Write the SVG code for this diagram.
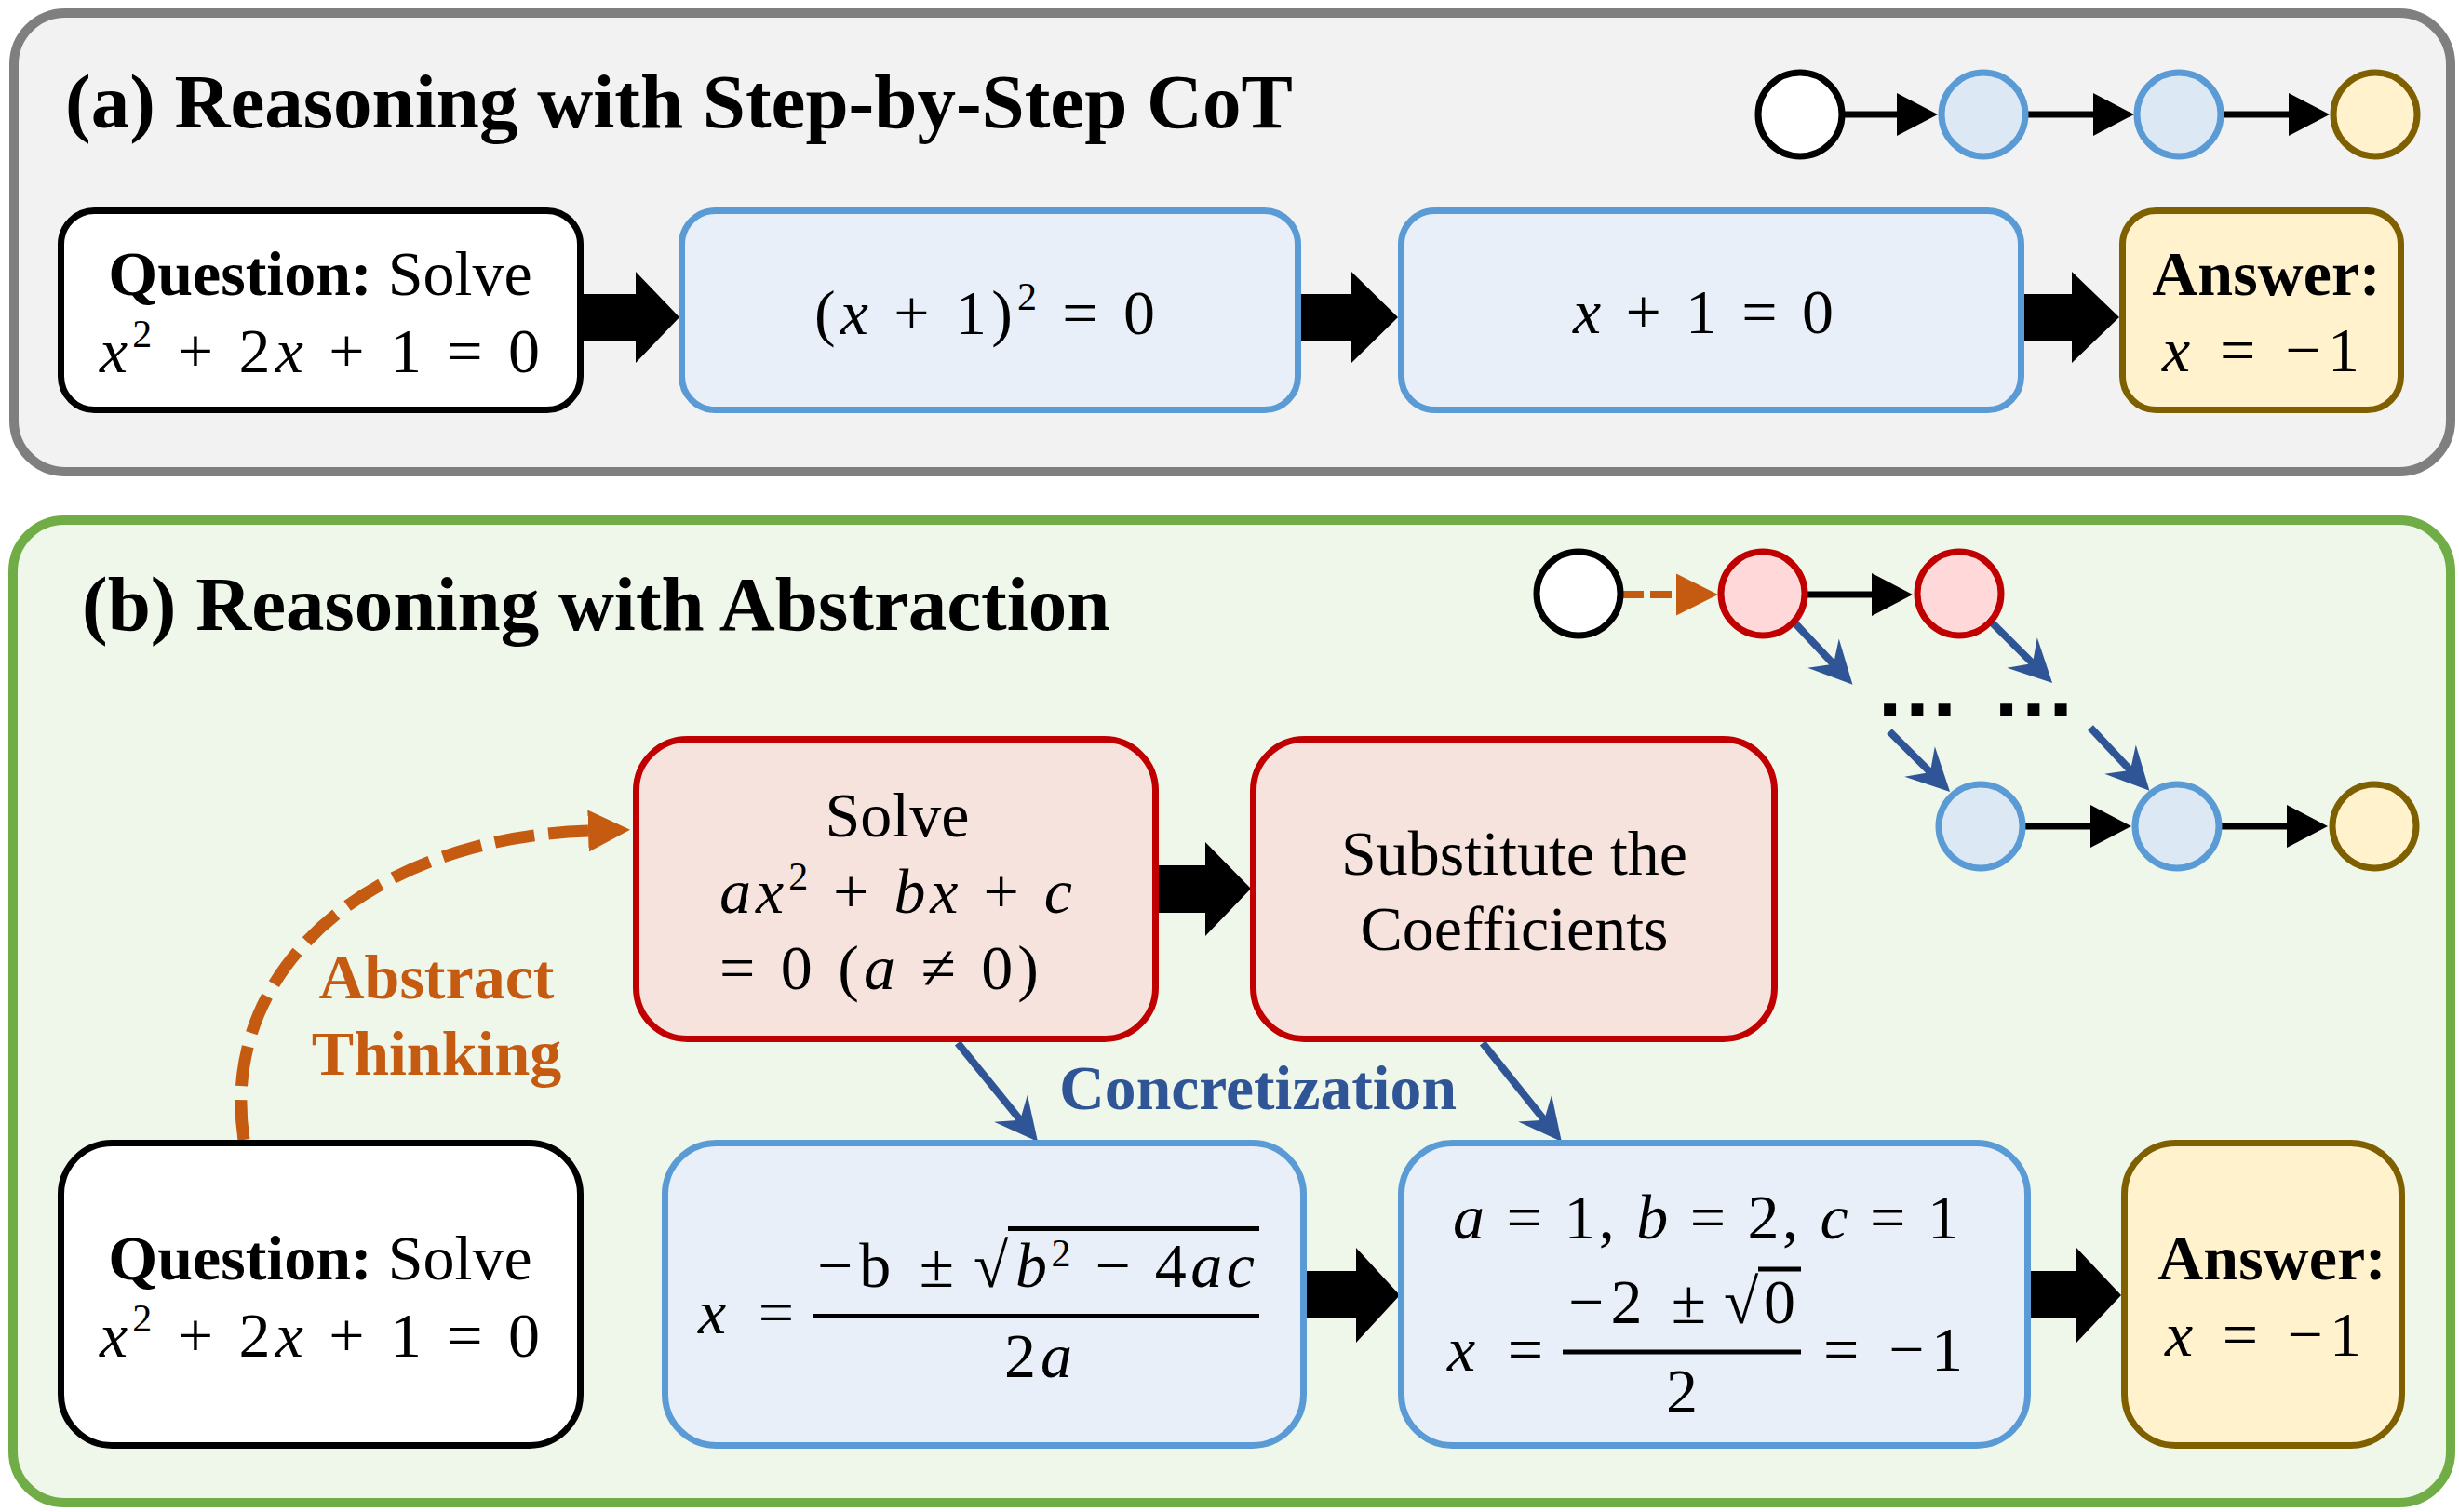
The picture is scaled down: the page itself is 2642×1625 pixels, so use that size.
<svg xmlns="http://www.w3.org/2000/svg" width="2642" height="1625" viewBox="0 0 2642 1625">
<defs>
<style>
.t{font-family:"Liberation Serif","Times New Roman",serif;font-size:68px;fill:#000}
.b{font-weight:bold}
.i{font-style:italic}
.ttl{font-family:"Liberation Serif","Times New Roman",serif;font-size:83px;font-weight:bold;fill:#000}
.sup{font-size:42px}
.dots{font-family:"Liberation Sans",Arial,sans-serif;font-weight:bold;font-size:92px;fill:#000}
.q{fill:#fff;stroke:#000;stroke-width:7}
.bl{fill:#e8eff8;stroke:#5b9bd5;stroke-width:7}
.rd{fill:#f6e3de;stroke:#c00000;stroke-width:7}
.an{fill:#fff2cc;stroke:#7f6000;stroke-width:7}
.cw{fill:#fff;stroke:#000;stroke-width:7}
.cb{fill:#dde8f5;stroke:#5b9bd5;stroke-width:7}
.cr{fill:#ffd9d9;stroke:#c00000;stroke-width:7}
.cy{fill:#fff2cc;stroke:#7f6000;stroke-width:7}
.blk{fill:#000}
.ln{stroke:#000;stroke-width:7;fill:none;marker-end:url(#ah)}
.bln{stroke:#2f5597;stroke-width:8;fill:none;marker-end:url(#st)}
.bar{stroke:#000;stroke-width:5}
</style>
<marker id="ah" markerUnits="userSpaceOnUse" markerWidth="48" markerHeight="50" viewBox="0 -25 48 50" refX="2" refY="0" orient="auto"><path d="M0,-23 L44,0 L0,23 Z" fill="#000"/></marker>
<marker id="aho" markerUnits="userSpaceOnUse" markerWidth="48" markerHeight="50" viewBox="0 -25 48 50" refX="2" refY="0" orient="auto"><path d="M0,-22.5 L45,0 L0,22.5 Z" fill="#c55a11"/></marker>
<marker id="st" markerUnits="userSpaceOnUse" markerWidth="52" markerHeight="52" viewBox="-49 -26 52 52" refX="-27" refY="0" orient="auto"><path d="M0,0 L-46,-23 L-30,0 L-46,23 Z" fill="#2f5597"/></marker>
</defs>

<g id="panel-a">
<rect x="15" y="14" width="2618" height="493" rx="55" fill="#f2f2f2" stroke="#7f7f7f" stroke-width="10"/>
<text class="ttl" x="70" y="137">(a) Reasoning with Step-by-Step CoT</text>
</g>
<g id="panel-b">
<rect x="14" y="559" width="2619" height="1056" rx="55" fill="#eff6ea" stroke="#70ad47" stroke-width="10"/>
<text class="ttl" x="88" y="677">(b) Reasoning with Abstraction</text>
</g>

<g id="connectors">
<!-- panel a mini graph -->
<line class="ln" x1="1979" y1="123" x2="2040" y2="123"/>
<line class="ln" x1="2176" y1="123" x2="2251" y2="123"/>
<line class="ln" x1="2386" y1="123" x2="2461" y2="123"/>
<!-- panel a block arrows -->
<polygon class="blk" points="627,316 683,316 683,292 730,341 683,390 683,366 627,366"/>
<polygon class="blk" points="1398,316 1452,316 1452,292 1502,341 1452,390 1452,366 1398,366"/>
<polygon class="blk" points="2175,316 2226,316 2226,292 2277,341 2226,390 2226,366 2175,366"/>
<!-- panel b mini graph -->
<line x1="1743" y1="639" x2="1803" y2="639" stroke="#c55a11" stroke-width="8" stroke-dasharray="23 7" marker-end="url(#aho)"/>
<line class="ln" x1="1941" y1="639" x2="2013" y2="639"/>
<line class="ln" x1="2175" y1="888" x2="2248" y2="888"/>
<line class="ln" x1="2386" y1="888" x2="2459" y2="888"/>
<line class="bln" x1="1927" y1="668" x2="1972" y2="716"/>
<line class="bln" x1="2137" y1="666" x2="2186" y2="715"/>
<line class="bln" x1="2030" y1="786" x2="2076" y2="832"/>
<line class="bln" x1="2246" y1="782" x2="2291" y2="830"/>
<!-- abstract thinking -->
<path d="M262,1225 C234,1040 400,900 634,893" fill="none" stroke="#c55a11" stroke-width="13" stroke-dasharray="43 15" marker-end="url(#aho)"/>
<!-- concretization -->
<line class="bln" stroke-width="9" x1="1029" y1="1121" x2="1098" y2="1206"/>
<line class="bln" stroke-width="9" x1="1593" y1="1121" x2="1661" y2="1206"/>
<!-- panel b block arrows -->
<polygon class="blk" points="1245,930 1295,930 1295,905 1344,955 1295,1006 1295,981 1245,981"/>
<polygon class="blk" points="1404,1366 1457,1366 1457,1341 1504,1392 1457,1443 1457,1417 1404,1417"/>
<polygon class="blk" points="2182,1366 2231,1366 2231,1341 2279,1392 2231,1443 2231,1417 2182,1417"/>
</g>

<g id="mini-a">
<circle class="cw" cx="1934" cy="123" r="45"/>
<circle class="cb" cx="2131" cy="123" r="45"/>
<circle class="cb" cx="2341" cy="123" r="45"/>
<circle class="cy" cx="2552" cy="123" r="45"/>
</g>
<g id="mini-b">
<circle class="cw" cx="1696" cy="638" r="45"/>
<circle class="cr" cx="1894" cy="638" r="45"/>
<circle class="cr" cx="2105" cy="638" r="45"/>
<text class="dots" x="2060" y="770" text-anchor="middle">…</text>
<text class="dots" x="2185" y="770" text-anchor="middle">…</text>
<circle class="cb" cx="2128" cy="888" r="45"/>
<circle class="cb" cx="2339" cy="888" r="45"/>
<circle class="cy" cx="2551" cy="888" r="45"/>
</g>

<g id="a-question">
<rect class="q" x="65.5" y="226.5" width="558" height="214" rx="36"/>
<text class="t" x="344" y="317" text-anchor="middle"><tspan class="b">Question:</tspan> Solve</text>
<text class="t" x="107" y="400" textLength="473" lengthAdjust="spacing"><tspan class="i">x</tspan><tspan class="sup" dy="-27">2</tspan><tspan dy="27"> + 2</tspan><tspan class="i">x</tspan> + 1 = 0</text>
</g>
<g id="a-step1">
<rect class="bl" x="732.5" y="226.5" width="662" height="214" rx="36"/>
<text class="t" x="875" y="359" textLength="366" lengthAdjust="spacing">(<tspan class="i">x</tspan> + 1)<tspan class="sup" dy="-26">2</tspan><tspan dy="26"> = 0</tspan></text>
</g>
<g id="a-step2">
<rect class="bl" x="1505.5" y="226.5" width="666" height="214" rx="36"/>
<text class="t" x="1690" y="358" textLength="280" lengthAdjust="spacing"><tspan class="i">x</tspan> + 1 = 0</text>
</g>
<g id="a-answer">
<rect class="an" x="2280.5" y="226.5" width="299" height="214" rx="36"/>
<text class="t b" x="2435" y="317" text-anchor="middle">Answer:</text>
<text class="t" x="2323" y="399" textLength="212" lengthAdjust="spacing"><tspan class="i">x</tspan> = −1</text>
</g>

<g id="b-abstract">
<rect class="rd" x="683.5" y="794.5" width="558" height="322" rx="55"/>
<text class="t" x="964" y="899" text-anchor="middle">Solve</text>
<text class="t" x="773" y="981" textLength="379" lengthAdjust="spacing"><tspan class="i">ax</tspan><tspan class="sup" dy="-25">2</tspan><tspan dy="25"> + </tspan><tspan class="i">bx</tspan> + <tspan class="i">c</tspan></text>
<text class="t" x="773" y="1063" textLength="343" lengthAdjust="spacing">= 0 (<tspan class="i">a</tspan> ≠ 0)</text>
</g>
<g id="b-substitute">
<rect class="rd" x="1346.5" y="794.5" width="560" height="322" rx="55"/>
<text class="t" x="1627" y="940" text-anchor="middle">Substitute the</text>
<text class="t" x="1627" y="1021" text-anchor="middle">Coefficients</text>
</g>
<g id="labels">
<text class="t b" x="469" y="1073" text-anchor="middle" style="fill:#c55a11">Abstract</text>
<text class="t b" x="469" y="1155" text-anchor="middle" style="fill:#c55a11">Thinking</text>
<text class="t b" x="1138" y="1192" textLength="427" lengthAdjust="spacingAndGlyphs" style="fill:#2f5597">Concretization</text>
</g>
<g id="b-question">
<rect class="q" x="65.5" y="1228.5" width="558" height="325" rx="55"/>
<text class="t" x="344" y="1375" text-anchor="middle"><tspan class="b">Question:</tspan> Solve</text>
<text class="t" x="107" y="1458" textLength="473" lengthAdjust="spacing"><tspan class="i">x</tspan><tspan class="sup" dy="-27">2</tspan><tspan dy="27"> + 2</tspan><tspan class="i">x</tspan> + 1 = 0</text>
</g>
<g id="b-formula">
<rect class="bl" x="714.5" y="1228.5" width="686" height="325" rx="55"/>
<text class="t" x="750" y="1433" textLength="103" lengthAdjust="spacing"><tspan class="i">x</tspan> =</text>
<line class="bar" x1="874" y1="1414.5" x2="1353" y2="1414.5"/>
<text class="t" x="878" y="1383" textLength="147" lengthAdjust="spacing">−b ±</text>
<text class="t" x="1046" y="1383" font-size="74">√</text>
<line class="bar" x1="1083" y1="1320.5" x2="1353" y2="1320.5"/>
<text class="t" x="1091" y="1383" textLength="257" lengthAdjust="spacing"><tspan class="i">b</tspan><tspan class="sup" dy="-22">2</tspan><tspan dy="22"> − 4</tspan><tspan class="i">ac</tspan></text>
<text class="t" x="1079" y="1480" textLength="73" lengthAdjust="spacing">2<tspan class="i">a</tspan></text>
</g>
<g id="b-substituted">
<rect class="bl" x="1505.5" y="1228.5" width="673" height="325" rx="55"/>
<text class="t" x="1561" y="1331" textLength="544" lengthAdjust="spacing"><tspan class="i">a</tspan> = 1, <tspan class="i">b</tspan> = 2, <tspan class="i">c</tspan> = 1</text>
<text class="t" x="1555" y="1473" textLength="103" lengthAdjust="spacing"><tspan class="i">x</tspan> =</text>
<line class="bar" x1="1679" y1="1453" x2="1935" y2="1453"/>
<text class="t" x="1685" y="1422" textLength="148" lengthAdjust="spacing">−2 ±</text>
<text class="t" x="1852" y="1422" font-size="74">√</text>
<line class="bar" x1="1889" y1="1364" x2="1935" y2="1364"/>
<text class="t" x="1895" y="1422">0</text>
<text class="t" x="1807" y="1518" text-anchor="middle">2</text>
<text class="t" x="1959" y="1473" textLength="150" lengthAdjust="spacing">= −1</text>
</g>
<g id="b-answer">
<rect class="an" x="2282.5" y="1228.5" width="298" height="325" rx="55"/>
<text class="t b" x="2441" y="1375" text-anchor="middle">Answer:</text>
<text class="t" x="2326" y="1457" textLength="211" lengthAdjust="spacing"><tspan class="i">x</tspan> = −1</text>
</g>
</svg>
